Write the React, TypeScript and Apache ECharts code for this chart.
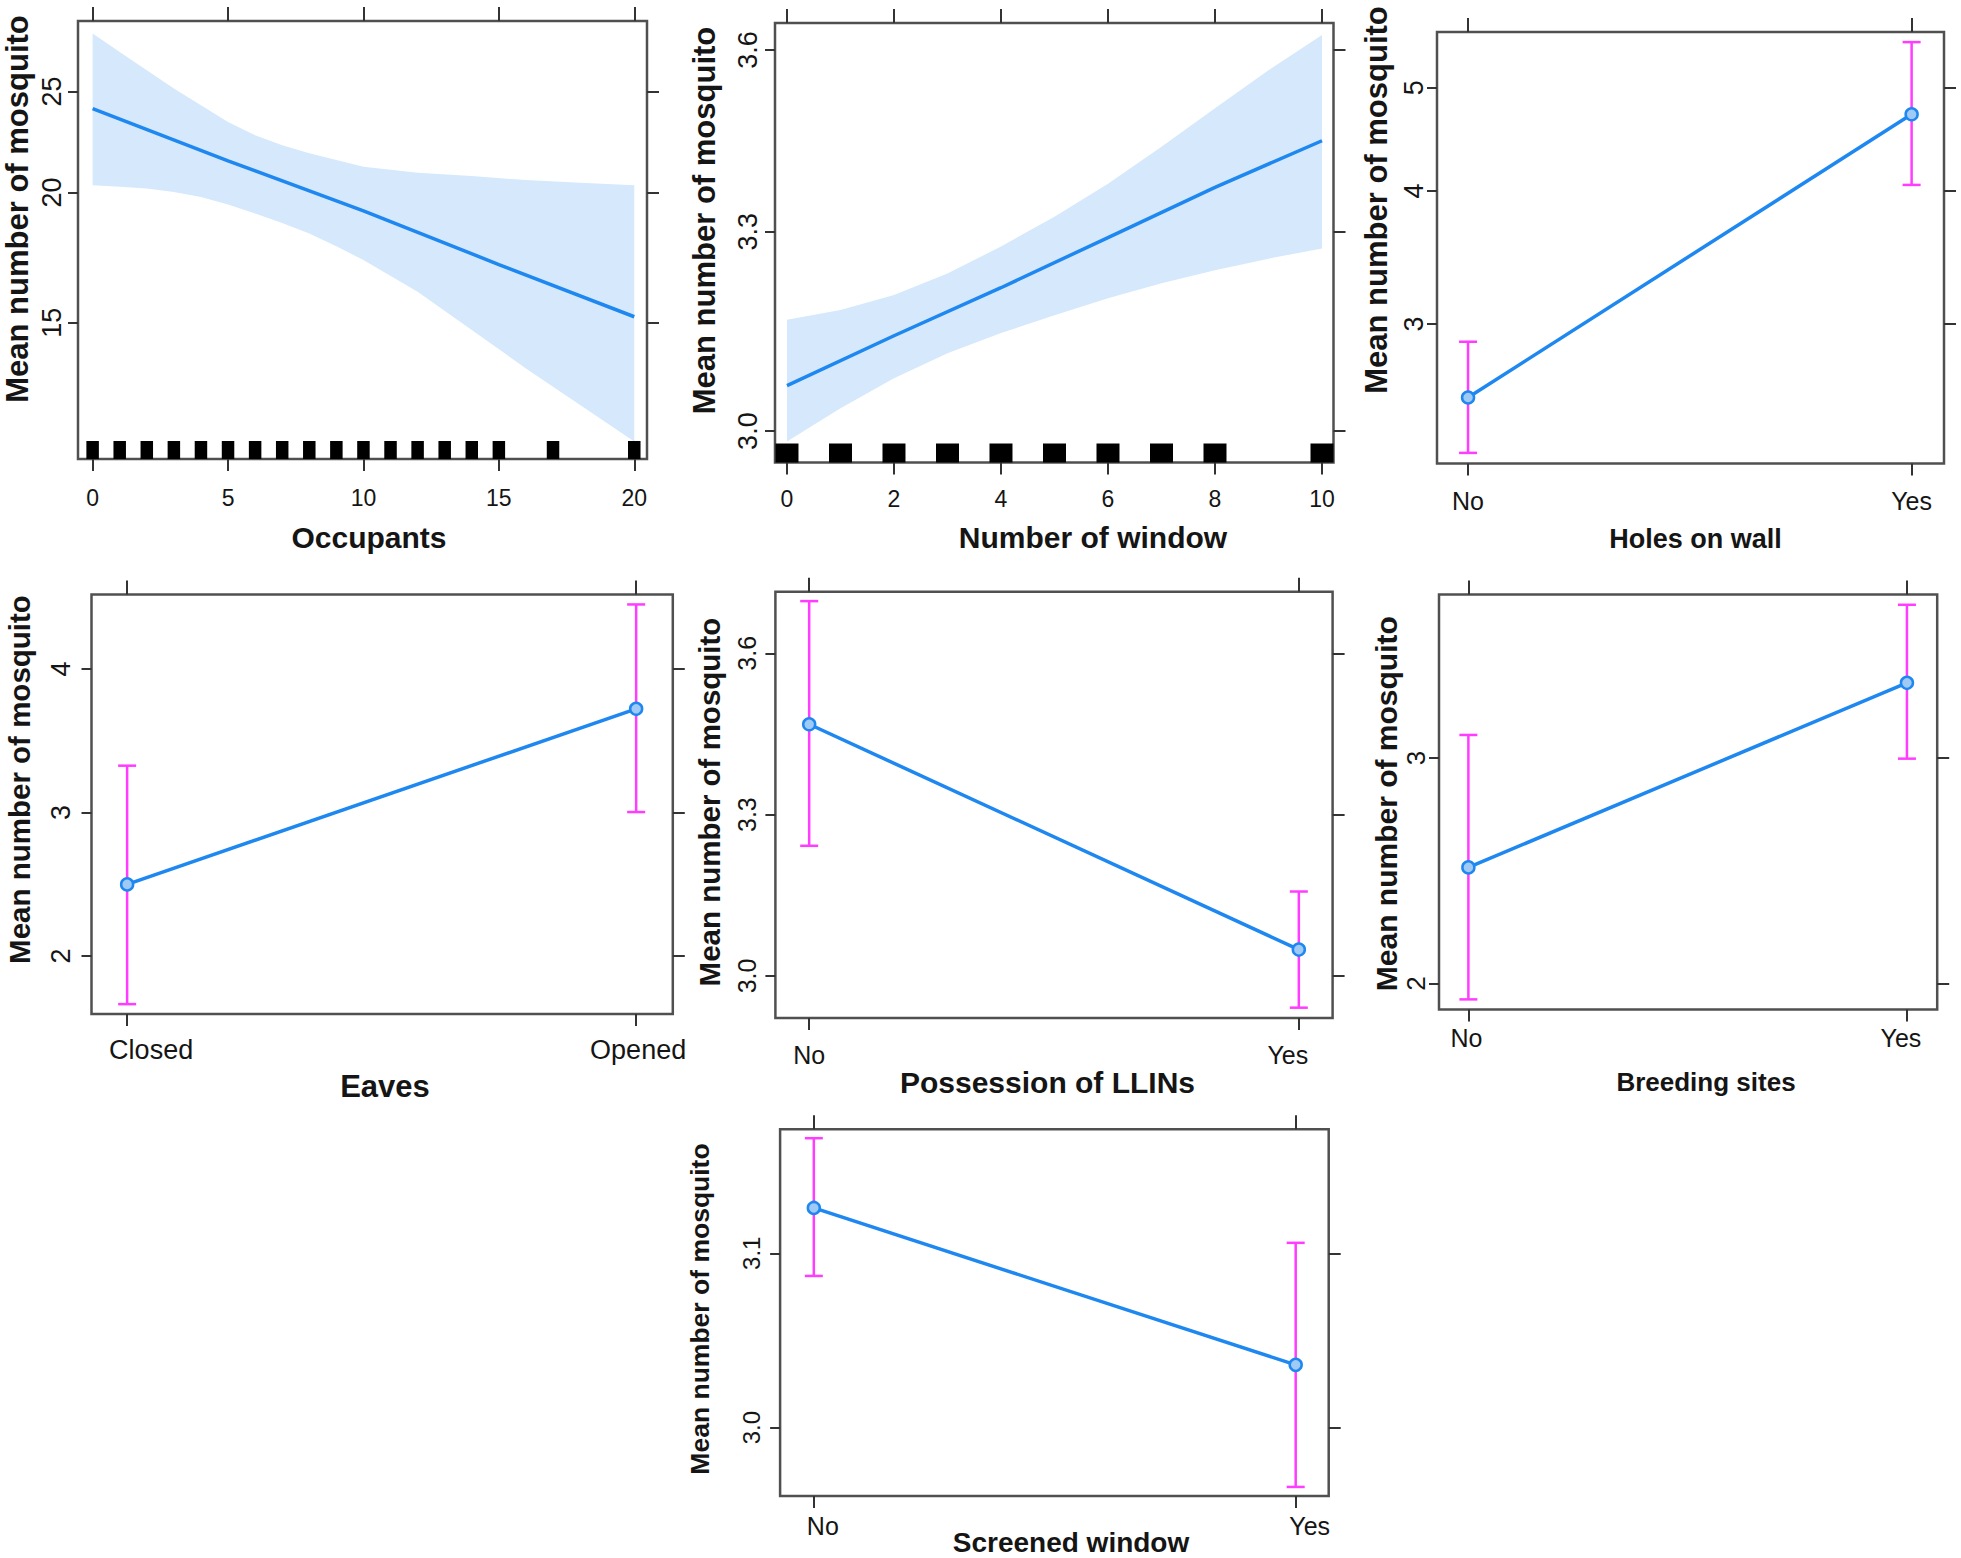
import React, { useEffect, useRef } from "react";
import * as echarts from "echarts";

// ---------------- Data ----------------
// Panel: Occupants (fitted mean with 95% band)
const occupantsX = [0, 5, 10, 15, 20];
const occupantsFit = [24.08, 21.45, 19.21, 17.06, 15.2];
const occupantsBandX = [0, 1, 2, 3, 4, 5, 6, 7, 8, 9, 10, 12, 14, 16, 18, 20];
const occupantsUpper = [28.42, 27.29, 26.21, 25.17, 24.25, 23.38, 22.7, 22.21, 21.81, 21.49, 21.17, 20.89, 20.74, 20.56, 20.44, 20.33];
const occupantsLower = [20.33, 20.26, 20.18, 20.02, 19.81, 19.48, 19.1, 18.7, 18.27, 17.76, 17.23, 16.06, 14.76, 13.56, 12.51, 11.54];
const occupantsRug = [0, 1, 2, 3, 4, 5, 6, 7, 8, 9, 10, 11, 12, 13, 14, 15, 17, 20];
const occupantsXTicks = [0, 5, 10, 15, 20];
const occupantsYTicks = [15, 20, 25];

// Panel: Number of window
const windowX = [0, 2, 4, 6, 8, 10];
const windowFit = [3.066, 3.14, 3.213, 3.291, 3.371, 3.447];
const windowBandX = [0, 1, 2, 3, 4, 5, 6, 7, 8, 9, 10];
const windowUpper = [3.164, 3.179, 3.202, 3.235, 3.277, 3.324, 3.377, 3.437, 3.501, 3.565, 3.626];
const windowLower = [2.985, 3.033, 3.077, 3.114, 3.144, 3.171, 3.197, 3.22, 3.24, 3.258, 3.274];
const windowRug = [0, 1, 2, 3, 4, 5, 6, 7, 8, 10];
const windowXTicks = [0, 2, 4, 6, 8, 10];
const windowYTicks = [3.0, 3.3, 3.6];

// Panel: Holes on wall
const holesCats = ["No", "Yes"];
const holesMean = [2.559, 4.722];
const holesLower = [2.27, 4.053];
const holesUpper = [2.887, 5.52];
const holesYTicks = [3, 4, 5];

// Panel: Eaves
const eavesCats = ["Closed", "Opened"];
const eavesMean = [2.499, 3.722];
const eavesLower = [1.665, 3.003];
const eavesUpper = [3.326, 4.449];
const eavesYTicks = [2, 3, 4];

// Panel: Possession of LLINs
const llinCats = ["No", "Yes"];
const llinMean = [3.468, 3.049];
const llinLower = [3.242, 2.941];
const llinUpper = [3.697, 3.157];
const llinYTicks = [3.0, 3.3, 3.6];

// Panel: Breeding sites
const breedCats = ["No", "Yes"];
const breedMean = [2.515, 3.333];
const breedLower = [1.93, 2.997];
const breedUpper = [3.102, 3.679];
const breedYTicks = [2, 3];

// Panel: Screened window
const screenCats = ["No", "Yes"];
const screenMean = [3.126, 3.036];
const screenLower = [3.087, 2.966];
const screenUpper = [3.166, 3.106];
const screenYTicks = [3.0, 3.1];

const yTitleText = "Mean number of mosquito";

// ---------------- Styles ----------------
const FONT = '"Liberation Sans", Arial, Helvetica, sans-serif';
const BLUE = "#1e88f0";
const BAND = "#d5e8fc";
const MAGENTA = "#ff3cff";
const FRAME = "#505050";
const TICK = "#333333";
const TEXT = "#151515";

type Panel = {
  grid: { left: number; top: number; width: number; height: number };
  log: boolean;
  xRange: [number, number];
  yRange: [number, number];
  xTicks: number[];
  xCats?: string[];
  xLabelShift?: number[];
  yTicks: number[];
  yDigits: number;
  xLabelSize: number;
  xLabelMargin: number;
  yLabelSize: number;
  yLabelMargin: number;
  title: string;
  titlePos: [number, number];
  titleSize: number;
  yTitlePos: [number, number];
  yTitleSize: number;
  fitX?: number[];
  fit?: number[];
  bandX?: number[];
  upper?: number[];
  lower?: number[];
  rug?: number[];
  rugW?: number;
  rugH?: number;
  mean?: number[];
  lo?: number[];
  hi?: number[];
};

const panels: Panel[] = [
  {
    grid: { left: 78, top: 21, width: 569, height: 438 },
    log: true,
    xRange: [-0.54, 20.47],
    yRange: [11.1, 29.22],
    xTicks: occupantsXTicks,
    yTicks: occupantsYTicks,
    yDigits: 0,
    xLabelSize: 23,
    xLabelMargin: 27,
    yLabelSize: 27,
    yLabelMargin: 13,
    title: "Occupants",
    titlePos: [369, 537],
    titleSize: 30,
    yTitlePos: [17, 209],
    yTitleSize: 31,
    fitX: occupantsX,
    fit: occupantsFit,
    bandX: occupantsBandX,
    upper: occupantsUpper,
    lower: occupantsLower,
    rug: occupantsRug,
    rugW: 12.5,
    rugH: 18,
  },
  {
    grid: { left: 775, top: 23, width: 558.5, height: 439.5 },
    log: true,
    xRange: [-0.224, 10.215],
    yRange: [2.9553, 3.6467],
    xTicks: windowXTicks,
    yTicks: windowYTicks,
    yDigits: 1,
    xLabelSize: 23,
    xLabelMargin: 25,
    yLabelSize: 27,
    yLabelMargin: 13.5,
    title: "Number of window",
    titlePos: [1093, 537],
    titleSize: 30,
    yTitlePos: [704.5, 220.5],
    yTitleSize: 31,
    fitX: windowX,
    fit: windowFit,
    bandX: windowBandX,
    upper: windowUpper,
    lower: windowLower,
    rug: windowRug,
    rugW: 23,
    rugH: 19,
  },
  {
    grid: { left: 1437, top: 32, width: 507, height: 431.6 },
    log: true,
    xRange: [-0.07, 1.073],
    yRange: [2.218, 5.642],
    xTicks: [0, 1],
    xCats: holesCats,
    yTicks: holesYTicks,
    yDigits: 0,
    xLabelSize: 25,
    xLabelMargin: 25,
    yLabelSize: 27,
    yLabelMargin: 9.5,
    title: "Holes on wall",
    titlePos: [1695.5, 539],
    titleSize: 27,
    yTitlePos: [1376.6, 200],
    yTitleSize: 31,
    mean: holesMean,
    lo: holesLower,
    hi: holesUpper,
  },
  {
    grid: { left: 91.5, top: 594.4, width: 581.3, height: 419.5 },
    log: false,
    xRange: [-0.07, 1.072],
    yRange: [1.597, 4.519],
    xTicks: [0, 1],
    xCats: eavesCats,
    xLabelShift: [24, 2],
    yTicks: eavesYTicks,
    yDigits: 0,
    xLabelSize: 27,
    xLabelMargin: 22.5,
    yLabelSize: 27,
    yLabelMargin: 17,
    title: "Eaves",
    titlePos: [385, 1086],
    titleSize: 31,
    yTitlePos: [19, 779.5],
    yTitleSize: 29.5,
    mean: eavesMean,
    lo: eavesLower,
    hi: eavesUpper,
  },
  {
    grid: { left: 775.4, top: 591.7, width: 557.2, height: 426.3 },
    log: false,
    xRange: [-0.069, 1.069],
    yRange: [2.9218, 3.7145],
    xTicks: [0, 1],
    xCats: llinCats,
    xLabelShift: [0, -11],
    yTicks: llinYTicks,
    yDigits: 1,
    xLabelSize: 25,
    xLabelMargin: 24.5,
    yLabelSize: 25,
    yLabelMargin: 15.5,
    title: "Possession of LLINs",
    titlePos: [1047.5, 1082],
    titleSize: 30,
    yTitlePos: [709, 802],
    yTitleSize: 29.5,
    mean: llinMean,
    lo: llinLower,
    hi: llinUpper,
  },
  {
    grid: { left: 1439, top: 594.4, width: 498.2, height: 415 },
    log: false,
    xRange: [-0.067, 1.069],
    yRange: [1.8856, 3.725],
    xTicks: [0, 1],
    xCats: breedCats,
    xLabelShift: [-2, -6],
    yTicks: breedYTicks,
    yDigits: 0,
    xLabelSize: 25,
    xLabelMargin: 16,
    yLabelSize: 26,
    yLabelMargin: 10,
    title: "Breeding sites",
    titlePos: [1706, 1082],
    titleSize: 26,
    yTitlePos: [1386.5, 803.7],
    yTitleSize: 30,
    mean: breedMean,
    lo: breedLower,
    hi: breedUpper,
  },
  {
    grid: { left: 780.1, top: 1129.3, width: 548.6, height: 366.7 },
    log: false,
    xRange: [-0.07, 1.0685],
    yRange: [2.9608, 3.1711],
    xTicks: [0, 1],
    xCats: screenCats,
    xLabelShift: [9, 14],
    yTicks: screenYTicks,
    yDigits: 1,
    xLabelSize: 25,
    xLabelMargin: 17.5,
    yLabelSize: 24,
    yLabelMargin: 17,
    title: "Screened window",
    titlePos: [1071, 1542],
    titleSize: 28,
    yTitlePos: [700, 1309],
    yTitleSize: 26.5,
    mean: screenMean,
    lo: screenLower,
    hi: screenUpper,
  },
];

function buildOption() {
  const grid: any[] = [];
  const xAxis: any[] = [];
  const yAxis: any[] = [];
  const series: any[] = [];
  const graphic: any[] = [];
  const tickLine = { color: TICK, width: 2 };

  panels.forEach((p, k) => {
    const T = (v: number) => (p.log ? Math.log(v) : v);
    const inv = (v: number) => (p.log ? Math.exp(v) : v);
    grid.push({
      ...p.grid,
      show: true,
      borderColor: FRAME,
      borderWidth: 2.5,
      backgroundColor: "transparent",
    });

    // per-label horizontal nudges done with rich-text padding
    const rich: any = {};
    if (p.xLabelShift) {
      p.xLabelShift.forEach((s, i) => {
        rich["s" + i] = {
          fontSize: p.xLabelSize,
          fontFamily: FONT,
          color: TEXT,
          padding: s >= 0 ? [0, 0, 0, 2 * s] : [0, -2 * s, 0, 0],
        };
      });
    }
    const xFmt = (v: number) => {
      const i = Math.round(v);
      if (p.xCats) {
        const t = p.xCats[i];
        return p.xLabelShift ? `{s${i}|${t}}` : t;
      }
      return String(i);
    };
    const xCommon = {
      type: "value",
      gridIndex: k,
      min: p.xRange[0],
      max: p.xRange[1],
      axisLine: { show: false, onZero: false },
      splitLine: { show: false },
    };
    xAxis.push({
      ...xCommon,
      position: "bottom",
      axisTick: { show: true, customValues: p.xTicks, length: 12, lineStyle: tickLine },
      axisLabel: {
        show: true,
        customValues: p.xTicks,
        formatter: xFmt,
        fontSize: p.xLabelSize,
        margin: p.xLabelMargin,
        color: TEXT,
        fontFamily: FONT,
        rich,
      },
    });
    xAxis.push({
      ...xCommon,
      position: "top",
      axisTick: { show: true, customValues: p.xTicks, length: 14, lineStyle: tickLine },
      axisLabel: { show: false },
    });

    const yT = p.yTicks.map(T);
    const yCommon = {
      type: "value",
      gridIndex: k,
      min: T(p.yRange[0]),
      max: T(p.yRange[1]),
      axisLine: { show: false, onZero: false },
      splitLine: { show: false },
    };
    yAxis.push({
      ...yCommon,
      position: "left",
      axisTick: { show: true, customValues: yT, length: 10, lineStyle: tickLine },
      axisLabel: {
        show: true,
        customValues: yT,
        rotate: 90,
        formatter: (v: number) => inv(v).toFixed(p.yDigits),
        fontSize: p.yLabelSize,
        margin: p.yLabelMargin,
        color: TEXT,
        fontFamily: FONT,
      },
    });
    yAxis.push({
      ...yCommon,
      position: "right",
      axisTick: { show: true, customValues: yT, length: 12, lineStyle: tickLine },
      axisLabel: { show: false },
    });

    const xi = 2 * k;
    const yi = 2 * k;

    if (p.bandX && p.upper && p.lower) {
      const pts = p.bandX.map((x, i) => [x, T(p.lower![i]), T(p.upper![i])]);
      series.push({
        type: "custom",
        xAxisIndex: xi,
        yAxisIndex: yi,
        data: pts,
        encode: { x: 0, y: [1, 2] },
        silent: true,
        z: 1,
        renderItem: (params: any, api: any) => {
          if (params.dataIndex !== 0) return null;
          const up = pts.map((q) => api.coord([q[0], q[2]]));
          const lo = pts.map((q) => api.coord([q[0], q[1]])).reverse();
          return {
            type: "polygon",
            shape: { points: up.concat(lo) },
            style: { fill: BAND },
          };
        },
      });
    }
    if (p.rug) {
      const w = p.rugW || 12;
      const h = p.rugH || 17;
      const yMinT = T(p.yRange[0]);
      series.push({
        type: "custom",
        xAxisIndex: xi,
        yAxisIndex: yi,
        data: p.rug.map((x) => [x, yMinT]),
        encode: { x: 0, y: 1 },
        silent: true,
        z: 3,
        renderItem: (params: any, api: any) => {
          const c = api.coord([api.value(0), api.value(1)]);
          return {
            type: "rect",
            shape: { x: c[0] - w / 2, y: c[1] - h, width: w, height: h },
            style: { fill: "#000000" },
          };
        },
      });
    }
    if (p.fitX && p.fit) {
      series.push({
        type: "line",
        xAxisIndex: xi,
        yAxisIndex: yi,
        data: p.fitX.map((x, i) => [x, T(p.fit![i])]),
        symbol: "none",
        lineStyle: { color: BLUE, width: 3.5 },
        silent: true,
        z: 5,
      });
    }
    if (p.mean && p.lo && p.hi) {
      const bars = p.mean.map((_, i) => [i, T(p.lo![i]), T(p.hi![i])]);
      series.push({
        type: "custom",
        xAxisIndex: xi,
        yAxisIndex: yi,
        data: bars,
        encode: { x: 0, y: [1, 2] },
        silent: true,
        z: 4,
        renderItem: (params: any, api: any) => {
          const a = api.coord([api.value(0), api.value(1)]);
          const b = api.coord([api.value(0), api.value(2)]);
          const cap = 9;
          const st = { stroke: MAGENTA, lineWidth: 2.5 };
          return {
            type: "group",
            children: [
              { type: "line", shape: { x1: a[0], y1: a[1], x2: b[0], y2: b[1] }, style: st },
              { type: "line", shape: { x1: a[0] - cap, y1: a[1], x2: a[0] + cap, y2: a[1] }, style: st },
              { type: "line", shape: { x1: b[0] - cap, y1: b[1], x2: b[0] + cap, y2: b[1] }, style: st },
            ],
          };
        },
      });
      series.push({
        type: "line",
        xAxisIndex: xi,
        yAxisIndex: yi,
        data: p.mean.map((v, i) => [i, T(v)]),
        symbol: "circle",
        symbolSize: 12,
        lineStyle: { color: BLUE, width: 3.5 },
        itemStyle: { color: "#9fcaf6", borderColor: BLUE, borderWidth: 2.5 },
        silent: true,
        z: 5,
      });
    }

    graphic.push({
      type: "text",
      x: p.titlePos[0],
      y: p.titlePos[1],
      silent: true,
      style: {
        text: p.title,
        fontSize: p.titleSize,
        fontWeight: "bold",
        fontFamily: FONT,
        fill: TEXT,
        align: "center",
        verticalAlign: "middle",
      },
    });
    graphic.push({
      type: "text",
      x: p.yTitlePos[0],
      y: p.yTitlePos[1],
      rotation: Math.PI / 2,
      silent: true,
      style: {
        text: yTitleText,
        fontSize: p.yTitleSize,
        fontWeight: "bold",
        fontFamily: FONT,
        fill: TEXT,
        align: "center",
        verticalAlign: "middle",
      },
    });
  });

  return {
    animation: false,
    backgroundColor: "#ffffff",
    textStyle: { fontFamily: FONT },
    grid,
    xAxis,
    yAxis,
    series,
    graphic,
  };
}

export default function App() {
  const ref = useRef<HTMLDivElement>(null);
  useEffect(() => {
    if (!ref.current) return;
    const chart = echarts.init(ref.current, null, { renderer: "svg" });
    chart.setOption(buildOption() as any);
    return () => chart.dispose();
  }, []);
  return (
    <div
      ref={ref}
      style={{
        position: "absolute",
        left: 0,
        top: 0,
        width: 1961,
        height: 1558,
        background: "#ffffff",
      }}
    />
  );
}
